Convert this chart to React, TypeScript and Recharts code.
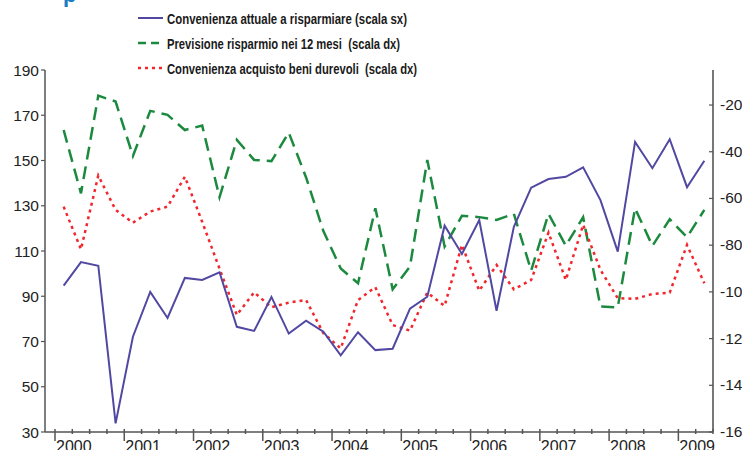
import React from 'react';
import { ComposedChart, Line, XAxis, YAxis, Legend } from 'recharts';

// Years shown on the x axis (quarterly data, 2000Q1 - 2009Q2)
const years = ['2000', '2001', '2002', '2003', '2004', '2005', '2006', '2007', '2008', '2009'];

// Convenienza attuale a risparmiare (scala sx)
const convenienzaRisparmio = [
  94.7, 105.1, 103.5, 33.8,
  72.1, 91.9, 80.4, 98.1,
  97.2, 100.6, 76.5, 74.7,
  89.7, 73.5, 79.2, 74.3,
  63.9, 74.1, 66.2, 66.8,
  84.5, 89.8, 121.2, 108.7,
  123.7, 83.6, 120.7, 138.0,
  141.8, 142.8, 147.0, 132.5,
  109.7, 158.2, 146.6, 159.4,
  138.2, 149.9,
];

// Previsione risparmio nei 12 mesi (scala dx)
const previsioneRisparmio = [
  -30.7, -57.8, -16.0, -18.5,
  -41.8, -22.5, -24.2, -30.7,
  -28.8, -59.5, -34.9, -43.5,
  -44.0, -31.8, -51.0, -74.0,
  -90.0, -96.3, -64.2, -98.9,
  -89.2, -43.5, -80.6, -67.4,
  -68.0, -69.2, -66.6, -90.9,
  -66.6, -80.2, -68.0, -106.3,
  -106.6, -64.2, -80.3, -68.9,
  -76.6, -64.9,
];

// Convenienza acquisto beni durevoli (scala dx)
const acquistoDurevoli = [
  -63.5, -81.8, -50.2, -64.9,
  -70.4, -65.6, -63.5, -50.7,
  -70.0, -90.0, -109.9, -100.2,
  -106.6, -104.6, -103.5, -117.7,
  -124.2, -103.5, -98.0, -114.2,
  -116.6, -100.3, -106.0, -79.9,
  -99.5, -88.5, -98.9, -94.9,
  -74.6, -94.9, -71.3, -90.6,
  -102.7, -103.0, -100.9, -100.3,
  -79.9, -96.3,
];

const leftTicks = [30, 50, 70, 90, 110, 130, 150, 170, 190];
const rightTicks = [-160, -140, -120, -100, -80, -60, -40, -20];

const seriesNames = [
  'Convenienza attuale a risparmiare (scala sx)',
  'Previsione risparmio nei 12 mesi  (scala dx)',
  'Convenienza acquisto beni durevoli  (scala dx)',
];

const data = convenienzaRisparmio.map((v, i) => ({
  t: i + 0.5,
  a: v,
  b: previsioneRisparmio[i],
  c: acquistoDurevoli[i],
}));

const nQuarters = convenienzaRisparmio.length;
const quarterTicks = Array.from({ length: nQuarters + 1 }, (_, i) => i);

const AXIS_FONT = '"Liberation Sans", Arial, sans-serif';
const BLUE = '#5148a2';
const GREEN = '#1c8a3e';
const RED = '#f2262c';
const AXIS = '#555';

const XTick = (props: any) => {
  const { x, y, payload } = props;
  const v = payload.value as number;
  const isYear = v % 4 === 0;
  const label = isYear ? years[v / 4] : null;
  return (
    <g>
      <line x1={x} x2={x} y1={y - 3} y2={y + (isYear ? 9 : 2)} stroke={AXIS} strokeWidth={1.5} />
      {label && v < nQuarters ? (
        <text x={x + 1} y={y + 20} fontSize={16} fontFamily={AXIS_FONT} fill="#222" textAnchor="start">
          {label}
        </text>
      ) : null}
    </g>
  );
};

const RightTick = (props: any) => {
  const { x, y, payload } = props;
  return (
    <g>
      <line x1={x - 4} x2={x} y1={y} y2={y} stroke={AXIS} strokeWidth={1.2} />
      <text x={x + 7} y={y + 5} fontSize={15.5} fontFamily={AXIS_FONT} fill="#222" textAnchor="start">
        {payload.value}
      </text>
    </g>
  );
};

const LegendContent = () => {
  const rows = [
    { color: BLUE, dash: undefined, width: 2, name: seriesNames[0], len: 240 },
    { color: GREEN, dash: '8 5', width: 2.5, name: seriesNames[1], len: 233 },
    { color: RED, dash: '3 4', width: 2.5, name: seriesNames[2], len: 250 },
  ];
  return (
    <svg width={742} height={80} style={{ display: 'block' }}>
      <text x={63} y={2} fontSize={22} fontWeight="bold" fill="#1a7cc4" fontFamily={AXIS_FONT}>p</text>
      {rows.map((r, i) => {
        const cy = 18 + i * 25;
        return (
          <g key={i}>
            <line x1={138} x2={163} y1={cy} y2={cy} stroke={r.color} strokeWidth={r.width} strokeDasharray={r.dash} />
            <text
              x={167}
              y={cy + 5.5}
              fontSize={15.5}
              fontWeight="bold"
              fill="#1a1a1a"
              fontFamily={AXIS_FONT}
              textLength={r.len}
              lengthAdjust="spacingAndGlyphs"
              style={{ whiteSpace: 'pre' }}
            >
              {r.name}
            </text>
          </g>
        );
      })}
    </svg>
  );
};

export default function App() {
  return (
    <div style={{ width: 742, height: 450, position: 'relative', overflow: 'hidden', background: '#fff' }}>
      <style>{'body{margin:0;}'}</style>
      <ComposedChart width={742} height={450} data={data} margin={{ top: 70, right: 0, bottom: 0, left: 0 }}>
        <XAxis
          dataKey="t"
          type="number"
          domain={[0, nQuarters]}
          ticks={quarterTicks}
          interval={0}
          padding={{ left: 10, right: 0 }}
          height={18}
          tickSize={0}
          tickMargin={0}
          tickLine={false}
          axisLine={{ stroke: AXIS, strokeWidth: 1.5 }}
          tick={<XTick />}
          allowDataOverflow
        />
        <YAxis
          yAxisId="left"
          orientation="left"
          width={45}
          domain={[30, 190]}
          ticks={leftTicks}
          interval={0}
          tickSize={4}
          tickMargin={2}
          tickLine={{ stroke: AXIS, strokeWidth: 1.2 }}
          axisLine={{ stroke: AXIS, strokeWidth: 1.5 }}
          tick={{ fontSize: 15.5, fontFamily: AXIS_FONT, fill: '#222' }}
          allowDataOverflow
        />
        <YAxis
          yAxisId="right"
          orientation="right"
          width={29}
          domain={[-160, -5]}
          ticks={rightTicks}
          interval={0}
          tickSize={0}
          tickMargin={0}
          tickLine={false}
          axisLine={{ stroke: '#777', strokeWidth: 2 }}
          tick={<RightTick />}
          allowDataOverflow
        />
        <Legend
          layout="horizontal"
          verticalAlign="middle"
          align="center"
          wrapperStyle={{ top: 0, left: 0, width: 742, height: 80 }}
          content={<LegendContent />}
        />
        <Line
          yAxisId="right"
          dataKey="b"
          name={seriesNames[1]}
          stroke={GREEN}
          strokeWidth={2.5}
          strokeDasharray="13 7"
          dot={false}
          activeDot={false}
          isAnimationActive={false}
        />
        <Line
          yAxisId="right"
          dataKey="c"
          name={seriesNames[2]}
          stroke={RED}
          strokeWidth={2.5}
          strokeDasharray="3 4"
          dot={false}
          activeDot={false}
          isAnimationActive={false}
        />
        <Line
          yAxisId="left"
          dataKey="a"
          name={seriesNames[0]}
          stroke={BLUE}
          strokeWidth={2}
          dot={false}
          activeDot={false}
          isAnimationActive={false}
        />
      </ComposedChart>
    </div>
  );
}
